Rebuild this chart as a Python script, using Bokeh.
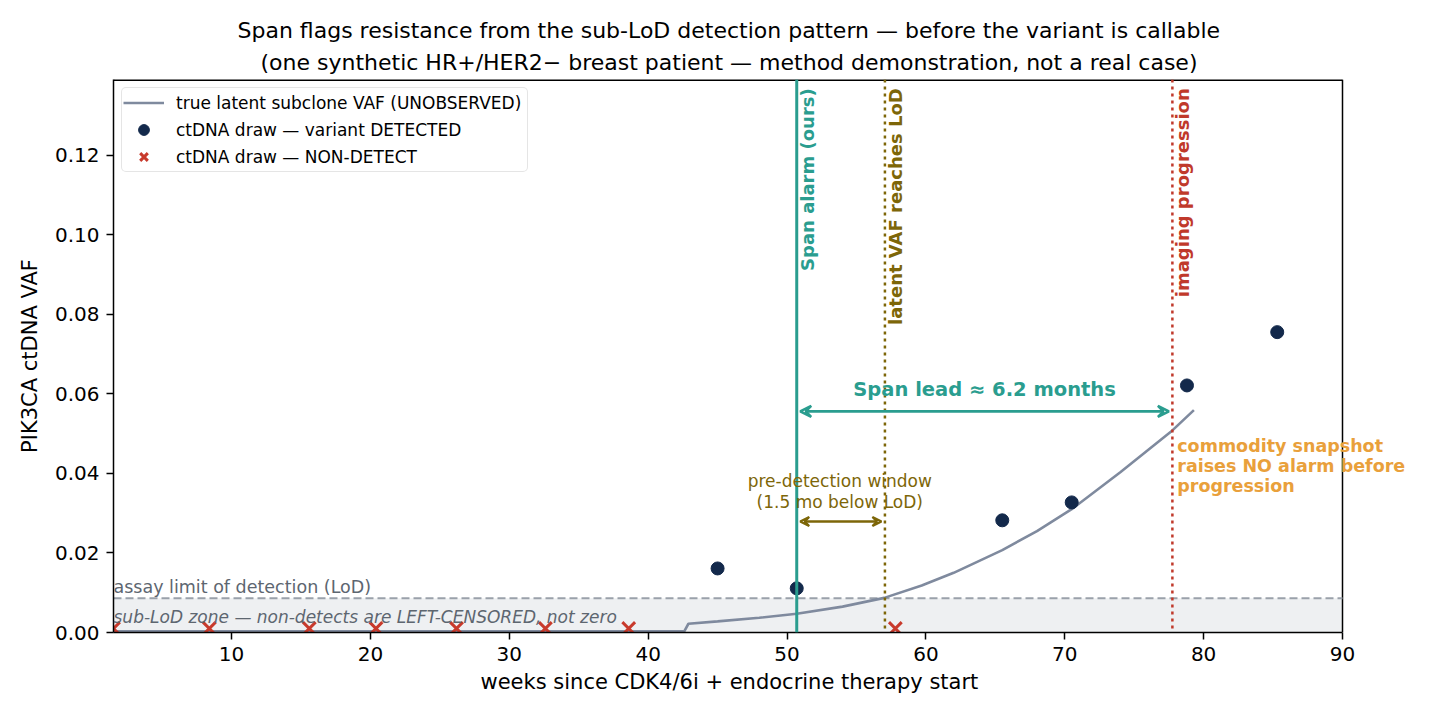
import math
from bokeh.plotting import figure
from bokeh.models import (Range1d, Span, BoxAnnotation, Label, Arrow, VeeHead, Title,
                          NumeralTickFormatter, FixedTicker, Legend)
from bokeh.embed import file_html
from bokeh.resources import INLINE

# ---------------- data ----------------
curve_weeks = [1.5, 42.6, 42.9, 45.0, 48.0, 50.7, 54.0, 57.0, 59.7, 62.0, 65.5, 68.0, 70.5, 74.0, 77.75, 79.3]
curve_vaf = [0.0003, 0.0003, 0.0022, 0.0028, 0.0037, 0.0047, 0.0065, 0.0087, 0.0118, 0.0150, 0.0207, 0.0255, 0.0310, 0.0403, 0.0508, 0.0559]

detect_weeks = [45.0, 50.7, 65.5, 70.5, 78.8, 85.3]
detect_vaf = [0.0161, 0.0111, 0.0282, 0.0327, 0.0621, 0.0755]

nondetect_weeks = [1.5, 8.4, 15.6, 20.4, 26.2, 32.6, 38.6, 57.8]
nondetect_vaf = [0.001, 0.001, 0.001, 0.001, 0.001, 0.001, 0.001, 0.001]

lod = 0.0086
alarm_week = 50.7
lod_cross_week = 57.05
progression_week = 77.75

x_min, x_max = 1.5, 90.0
y_min, y_max = 0.0, 0.139
x_ticks = [10, 20, 30, 40, 50, 60, 70, 80, 90]
y_ticks = [0.00, 0.02, 0.04, 0.06, 0.08, 0.10, 0.12]

title_line1 = "Span flags resistance from the sub-LoD detection pattern \u2014 before the variant is callable"
title_line2 = "(one synthetic HR+/HER2\u2212 breast patient \u2014 method demonstration, not a real case)"
x_label = "weeks since CDK4/6i + endocrine therapy start"
y_label = "PIK3CA ctDNA VAF"

# ---------------- styling ----------------
FONT = "DejaVu Sans"
TEAL = "#2a9d8f"
OLIVE = "#7d6608"
RED = "#c0392b"
ORANGE = "#e9a03b"
NAVY = "#13294b"
XRED = "#c83a2c"
CURVE = "#7f8a9e"
GRAYTXT = "#5d6670"

W, H = 1440, 720
FRAME_L, FRAME_R, FRAME_T, FRAME_B = 113, 1342, 79, 632
# the frame is extended to the right edge so that the note may overflow the axes box
px_per_unit = (FRAME_R - FRAME_L) / (x_max - x_min)
view_end = x_min + (W - FRAME_L) / px_per_unit

p = figure(width=W, height=H, output_backend="svg", toolbar_location=None,
           x_range=Range1d(x_min, view_end), y_range=Range1d(y_min, y_max),
           min_border_left=FRAME_L, min_border_right=0, min_border_top=FRAME_T,
           min_border_bottom=H - FRAME_B)
p.title.visible = False
p.xgrid.visible = False
p.ygrid.visible = False
p.outline_line_color = None
p.background_fill_color = "white"

# two title lines, each centred over the axes box (left-aligned with pixel offsets)
p.add_layout(Title(text=title_line2, align="left", offset=147, text_font=FONT,
                   text_font_size="22px", text_font_style="normal", text_color="black",
                   text_line_height=0.8, standoff=10), "above")
p.add_layout(Title(text=title_line1, align="left", offset=124, text_font=FONT,
                   text_font_size="22px", text_font_style="normal", text_color="black",
                   standoff=0), "above")

for ax in (p.xaxis[0], p.yaxis[0]):
    ax.axis_line_color = "black"
    ax.axis_line_width = 1.5
    ax.major_tick_line_color = "black"
    ax.major_tick_line_width = 1.5
    ax.major_tick_out = 7
    ax.major_tick_in = 0
    ax.minor_tick_line_color = None
    ax.major_label_text_font = FONT
    ax.major_label_text_font_size = "20px"
    ax.major_label_text_color = "black"
    ax.axis_label_text_font = FONT
    ax.axis_label_text_font_size = "21px"
    ax.axis_label_text_font_style = "normal"
    ax.axis_label_text_color = "black"
    ax.major_label_standoff = 7
    ax.axis_label_standoff = 10

p.xaxis.bounds = (x_min, x_max)
p.xaxis.ticker = FixedTicker(ticks=x_ticks)
p.yaxis.ticker = FixedTicker(ticks=y_ticks)
p.yaxis.formatter = NumeralTickFormatter(format="0.00")
p.yaxis.axis_label = y_label
# x-axis label placed as a title below the axis, centred under the axes box
p.add_layout(Title(text=x_label, align="left", offset=367, text_font=FONT,
                   text_font_size="21px", text_font_style="normal", text_color="black",
                   standoff=9), "below")

# axes box: top and right edges
p.line([x_min, x_max], [y_max, y_max], line_color="black", line_width=3)
p.line([x_max, x_max], [y_min, y_max], line_color="black", line_width=1.5)

# sub-LoD zone and LoD line
p.add_layout(BoxAnnotation(bottom=y_min, top=lod, left=x_min, right=x_max, fill_color="#eef0f2",
                           fill_alpha=1.0, line_color=None, level="underlay"))
p.line([x_min, x_max], [lod, lod], line_color="#9aa1aa", line_width=2, line_dash="8 4")

# vertical event lines
p.add_layout(Span(location=alarm_week, dimension="height", line_color=TEAL, line_width=3))
p.add_layout(Span(location=lod_cross_week, dimension="height", line_color=OLIVE, line_width=2.5,
                  line_dash="3 4"))
p.add_layout(Span(location=progression_week, dimension="height", line_color=RED, line_width=2.5,
                  line_dash="3 4"))

# data
r_curve = p.line(curve_weeks, curve_vaf, line_color=CURVE, line_width=2.6)
r_det = p.scatter(detect_weeks, detect_vaf, marker="circle", size=13, fill_color=NAVY,
                  line_color=NAVY)
r_non = p.scatter(nondetect_weeks, nondetect_vaf, marker="x", size=18, line_color=XRED,
                  line_width=3)

legend = Legend(items=[("true latent subclone VAF (UNOBSERVED)", [r_curve]),
                       ("ctDNA draw \u2014 variant DETECTED", [r_det]),
                       ("ctDNA draw \u2014 NON-DETECT", [r_non])],
                location="top_left")
legend.label_text_font = FONT
legend.label_text_font_size = "17px"
legend.label_text_color = "black"
legend.label_height = 19
legend.label_width = 350
legend.glyph_height = 27
legend.glyph_width = 41
legend.spacing = 0
legend.padding = 1
legend.margin = 8
legend.label_standoff = 12
legend.border_line_color = "#cccccc"
legend.border_line_width = 1.5
legend.background_fill_color = "white"
legend.background_fill_alpha = 0.85
if "border_radius" in legend.properties():
    legend.border_radius = 5
p.add_layout(legend)

# annotations
def lab(x, y, text, color, size="17px", style="normal", align="left", baseline="middle", angle=0.0):
    p.add_layout(Label(x=x, y=y, text=text, text_color=color, text_font=FONT,
                       text_font_size=size, text_font_style=style, text_align=align,
                       text_baseline=baseline, angle=angle))

lab(x_min, lod + 0.0004, "assay limit of detection (LoD)", GRAYTXT, size="17.5px", baseline="bottom")
lab(x_min, 0.0040, "sub-LoD zone \u2014 non-detects are LEFT-CENSORED, not zero", GRAYTXT,
    size="17px", style="italic")

lab(alarm_week, 0.1368, "Span alarm (ours)", TEAL, size="18px", style="bold", align="right",
    baseline="top", angle=math.pi / 2)
lab(lod_cross_week, 0.1368, "latent VAF reaches LoD", OLIVE, size="18px", style="bold",
    align="right", baseline="top", angle=math.pi / 2)
lab(progression_week, 0.1368, "imaging progression", RED, size="18px", style="bold",
    align="right", baseline="top", angle=math.pi / 2)

# lead arrow
lead_y = 0.0556
p.add_layout(Arrow(start=VeeHead(size=11, line_color=TEAL, line_width=2.5, fill_color=None),
                   end=VeeHead(size=11, line_color=TEAL, line_width=2.5, fill_color=None),
                   x_start=alarm_week + 0.25, y_start=lead_y, x_end=progression_week - 0.25,
                   y_end=lead_y, line_color=TEAL, line_width=2.8))
lab((alarm_week + progression_week) / 2, 0.0611, "Span lead \u2248 6.2 months", TEAL, size="19.5px",
    style="bold", align="center")

# pre-detection window
win_y = 0.0279
p.add_layout(Arrow(start=VeeHead(size=9, line_color=OLIVE, line_width=2.2, fill_color=None),
                   end=VeeHead(size=9, line_color=OLIVE, line_width=2.2, fill_color=None),
                   x_start=alarm_week + 0.25, y_start=win_y, x_end=lod_cross_week - 0.25,
                   y_end=win_y, line_color=OLIVE, line_width=2.4))
lab(53.8, 0.0380, "pre-detection window", OLIVE, size="17px", align="center")
lab(53.8, 0.0327, "(1.5 mo below LoD)", OLIVE, size="17px", align="center")

# commodity snapshot note
lab(78.1, 0.0468, "commodity snapshot", ORANGE, size="17.5px", style="bold")
lab(78.1, 0.0418, "raises NO alarm before", ORANGE, size="17.5px", style="bold")
lab(78.1, 0.0367, "progression", ORANGE, size="17.5px", style="bold")

open("out.html", "w").write(file_html(p, INLINE))
